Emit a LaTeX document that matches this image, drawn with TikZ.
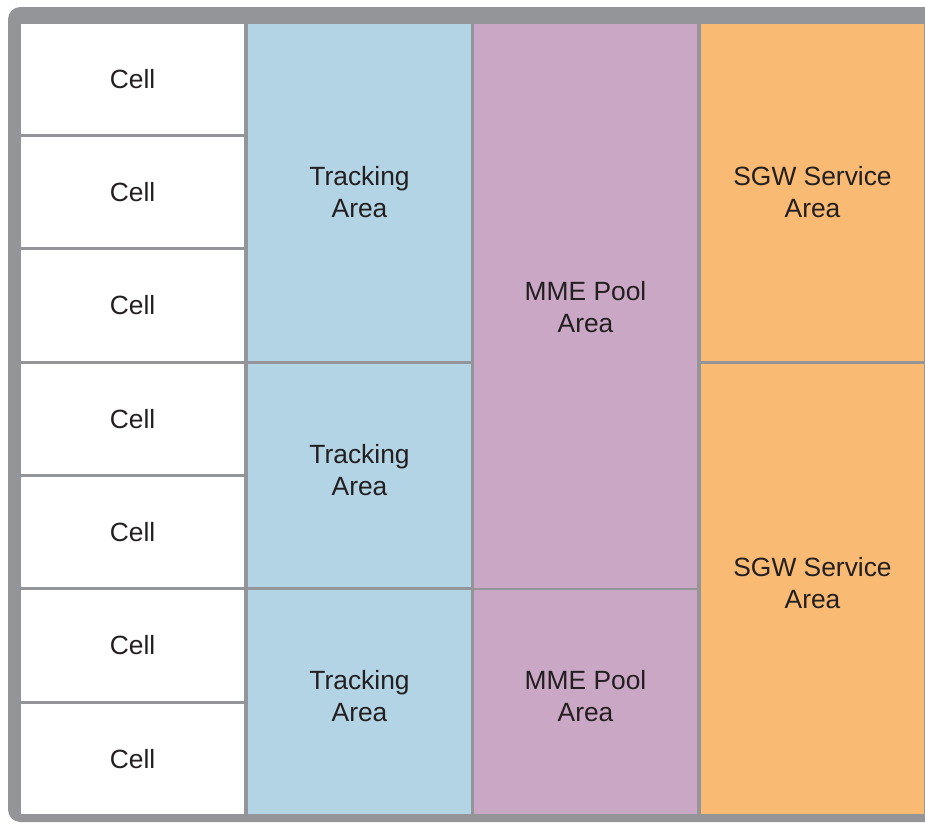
\documentclass[tikz,border=0pt]{standalone}
\usepackage{fontspec}
\setmainfont{Liberation Sans}
\usetikzlibrary{positioning}
\definecolor{framegray}{RGB}{148,149,153}
\definecolor{trackblue}{RGB}{179,212,228}
\definecolor{mmepurple}{RGB}{201,167,197}
\definecolor{sgworange}{RGB}{249,186,116}
\definecolor{textdark}{RGB}{35,31,32}

\begin{document}
\begin{tikzpicture}[
    x=0.01cm, y=-0.01cm,
    every node/.style={font=\fontsize{7.5}{9.1}\selectfont, text=textdark,
                       align=center, inner sep=0pt, anchor=north west},
    block/.style={minimum width=2.235cm},
    cellbox/.style={block, fill=white, minimum height=1.103cm},
    trackbox/.style={block, fill=trackblue},
    mmebox/.style={block, fill=mmepurple},
    sgwbox/.style={block, fill=sgworange},
    areatext/.style={anchor=center}
]

%======================
% Frame
%======================

\useasboundingbox (0,0) rectangle (925,823);
\clip (0,0) rectangle (925,823);
\fill[framegray, rounded corners=3.5pt] (8,7) rectangle (960,822);

\def\RowP{113.3}

%======================
% Cells
%======================

\foreach \i in {0,...,6}
    \node[cellbox] (cell\i) at (20,{23+\i*\RowP}) {Cell};

%======================
% Area boxes
%======================

% tracking areas
\node[trackbox, minimum height=3.369cm] (ta1) at (247,23) {};
\node[trackbox, minimum height=2.236cm] (ta2) at (247,{23+3*\RowP}) {};
\node[trackbox, minimum height=2.236cm] (ta3) at (247,{23+5*\RowP}) {};

% MME pool areas
\node[mmebox, minimum height=5.635cm] (mme1) at (473,23) {};
\node[mmebox, minimum height=2.236cm] (mme2) at (473,{23+5*\RowP}) {};

% SGW service areas
\node[sgwbox, minimum height=3.369cm] (sgw1) at (700,23) {};
\node[sgwbox, minimum height=4.502cm] (sgw2) at (700,{23+3*\RowP}) {};

%======================
% Area labels
%======================

\node[areatext] (ta1txt) at (ta1.center) {Tracking\\Area};
\node[areatext, yshift=1.6pt] (ta2txt) at (ta2.center) {Tracking\\Area};
\node[areatext, yshift=1.6pt] (ta3txt) at (ta3.center) {Tracking\\Area};
\node[areatext, yshift=-0.5pt] (mme1txt) at (mme1.center) {MME Pool\\Area};
\node[areatext, yshift=1.6pt] (mme2txt) at (mme2.center) {MME Pool\\Area};
\node[areatext] (sgw1txt) at (sgw1.center) {SGW Service\\Area};
\node[areatext, yshift=1.6pt] (sgw2txt) at (sgw2.center) {SGW Service\\Area};

\end{tikzpicture}
\end{document}
